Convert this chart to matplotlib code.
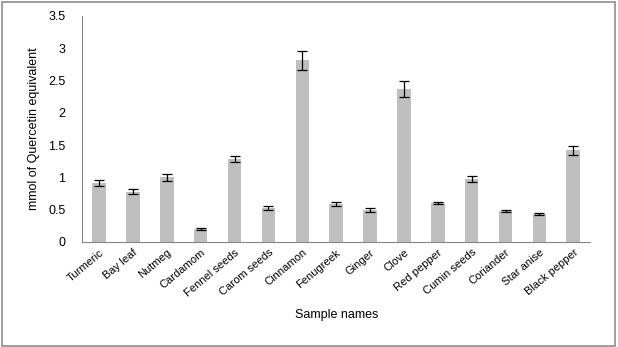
import matplotlib
matplotlib.use('Agg')
import matplotlib.pyplot as plt
from matplotlib.patches import Rectangle

plt.rcParams['font.family'] = ['Liberation Sans', 'DejaVu Sans']

samples = ['Turmeric', 'Bay leaf', 'Nutmeg', 'Cardamom', 'Fennel seeds', 'Carom seeds',
           'Cinnamon', 'Fenugreek', 'Ginger', 'Clove', 'Red pepper', 'Cumin seeds',
           'Coriander', 'Star anise', 'Black pepper']
values = [0.91, 0.78, 1.00, 0.20, 1.28, 0.52, 2.81, 0.58, 0.50, 2.37, 0.60, 0.97, 0.48, 0.43, 1.42]
errors = [0.05, 0.04, 0.05, 0.01, 0.05, 0.03, 0.15, 0.03, 0.03, 0.12, 0.02, 0.05, 0.02, 0.02, 0.07]
yticks = [0, 0.5, 1, 1.5, 2, 2.5, 3, 3.5]
ytick_labels = ['0', '0.5', '1', '1.5', '2', '2.5', '3', '3.5']

fig = plt.figure(figsize=(6.18, 3.47), dpi=100)
fig.patches.append(Rectangle((0.003, 0.004), 0.992, 0.99, transform=fig.transFigure,
                             fill=False, edgecolor='#8c8c8c', linewidth=1.2))
ax = fig.add_axes([0.133, 0.303, 0.822, 0.651])

x = range(len(samples))
ax.bar(x, values, width=0.4, color='#bfbfbf', zorder=2)
ax.errorbar(x, values, yerr=errors, fmt='none', ecolor='black', elinewidth=0.9,
            capsize=3.5, capthick=0.9, zorder=3)

ax.set_xlim(-0.5, len(samples) - 0.5)
ax.set_ylim(0, 3.5)
ax.set_yticks(yticks)
ax.set_yticklabels(ytick_labels, fontsize=9)
ax.set_xticks(list(x))
ax.set_xticklabels(samples, rotation=40, ha='right', rotation_mode='anchor', fontsize=8)
ax.tick_params(axis='y', length=0, pad=12)
ax.tick_params(axis='x', length=0, pad=4)

for side in ['top', 'right']:
    ax.spines[side].set_visible(False)
ax.spines['left'].set_color('#868686')
ax.spines['bottom'].set_color('#868686')

ax.set_ylabel('mmol of Quercetin equivalent', fontsize=9, labelpad=6)
ax.set_xlabel('Sample names', fontsize=9, labelpad=8)

fig.savefig('out.png', dpi=100)
